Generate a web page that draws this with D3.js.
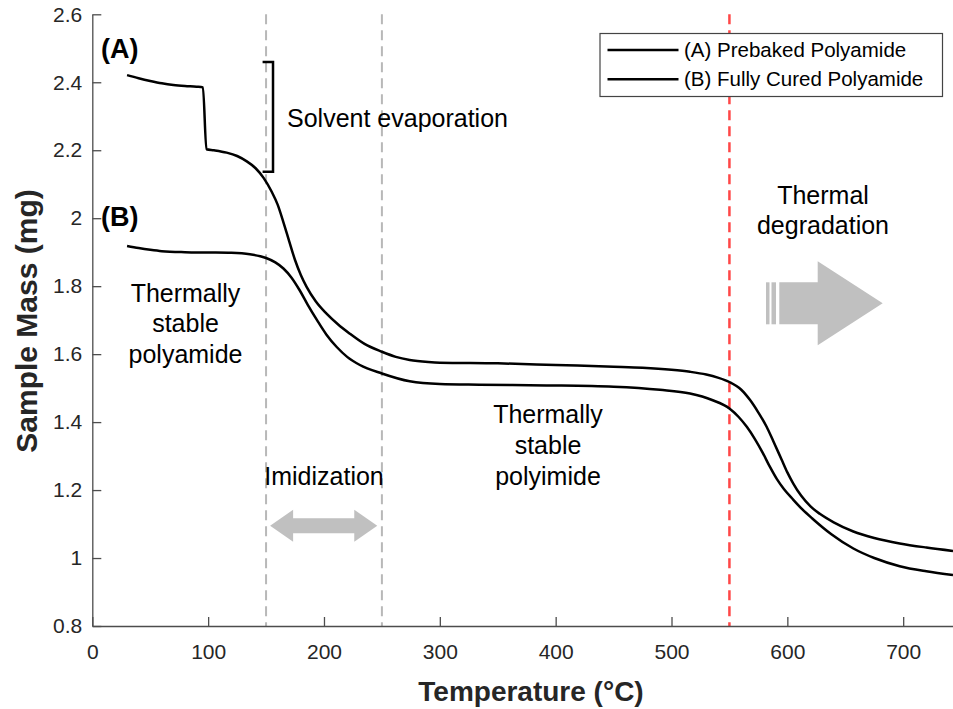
<!DOCTYPE html>
<html>
<head>
<meta charset="utf-8">
<script src="https://cdn.jsdelivr.net/npm/d3@7"></script>
<style>
  body { margin: 0; background: #fff; }
  text { font-family: "Liberation Sans", Arial, Helvetica, sans-serif; }
</style>
</head>
<body>
<div id="chart"></div>
<script>
const width = 953;
const height = 709;
const margins = { top: 14.3, left: 92.3, bottom: 83, right: 0 };

// (A) prebaked polyamide
const tempA = [30, 40, 50, 60, 70, 80, 90, 95.5, 98.5, 105, 116, 125, 133, 141, 148, 155, 160, 165, 170, 175, 180, 185, 193, 202, 212, 222, 235, 250, 262, 274, 290, 300, 350, 400, 450, 475, 500, 516, 530, 540, 550, 560, 568, 575, 582, 588, 595, 600, 605, 612, 620, 628, 640, 657, 675, 697, 720, 743];
const massA = [2.421, 2.412, 2.404, 2.397, 2.392, 2.389, 2.387, 2.385, 2.203, 2.200, 2.193, 2.183, 2.168, 2.147, 2.118, 2.077, 2.040, 1.988, 1.932, 1.877, 1.833, 1.798, 1.755, 1.720, 1.688, 1.661, 1.630, 1.607, 1.592, 1.583, 1.577, 1.575, 1.573, 1.568, 1.563, 1.560, 1.554, 1.548, 1.540, 1.531, 1.518, 1.496, 1.464, 1.428, 1.387, 1.343, 1.290, 1.252, 1.220, 1.183, 1.152, 1.130, 1.105, 1.078, 1.059, 1.043, 1.031, 1.021];

// (B) fully cured polyamide
const tempB = [30, 40, 50, 60, 80, 100, 120, 136, 145, 150, 158, 165, 172, 179, 186, 194, 202, 211, 220, 231, 250, 274, 300, 334, 392, 450, 490, 516, 535, 550, 558, 565, 572, 579, 585, 591, 597, 605, 613, 622, 638, 657, 675, 697, 720, 743];
const massB = [1.918, 1.912, 1.907, 1.903, 1.900, 1.899, 1.898, 1.894, 1.888, 1.883, 1.870, 1.852, 1.825, 1.788, 1.745, 1.700, 1.658, 1.621, 1.592, 1.568, 1.543, 1.520, 1.512, 1.510, 1.508, 1.504, 1.495, 1.484, 1.465, 1.440, 1.415, 1.386, 1.350, 1.308, 1.268, 1.232, 1.203, 1.172, 1.143, 1.115, 1.070, 1.028, 1.000, 0.976, 0.961, 0.950];

const seriesNames = ['(A) Prebaked Polyamide', '(B) Fully Cured Polyamide'];
const xTicks = [0, 100, 200, 300, 400, 500, 600, 700];
const yTicks = [0.8, 1, 1.2, 1.4, 1.6, 1.8, 2, 2.2, 2.4, 2.6];
const grayMarks = [150, 250];
const redMark = 550;

const svg = d3.select('#chart')
    .append('svg')
    .attr('width', width)
    .attr('height', height);

const x = d3.scaleLinear().domain([0, 743]).range([margins.left, width - margins.right]);
const y = d3.scaleLinear().domain([0.8, 2.6]).range([height - margins.bottom, margins.top]);

// dashed markers
svg.selectAll('.grayline').data(grayMarks)
    .enter()
    .append('line')
    .attr('x1', d => x(d)).attr('x2', d => x(d))
    .attr('y1', y(2.6)).attr('y2', y(0.8))
    .attr('stroke', '#b8b8b8')
    .attr('stroke-width', 2)
    .attr('stroke-dasharray', '10,6');

svg.append('line')
    .attr('x1', x(redMark)).attr('x2', x(redMark))
    .attr('y1', y(2.6)).attr('y2', y(0.8))
    .attr('stroke', '#ff4747')
    .attr('stroke-width', 2.5)
    .attr('stroke-dasharray', '10,6');

// axes
const xAxis = svg.append('g')
    .attr('transform', `translate(0,${y(0.8)})`)
    .call(d3.axisBottom(x).tickValues(xTicks).tickSizeInner(-9).tickSizeOuter(0).tickPadding(18));
const yAxis = svg.append('g')
    .attr('transform', `translate(${x(0)},0)`)
    .call(d3.axisLeft(y).tickValues(yTicks).tickFormat(d3.format('')).tickSizeInner(-9).tickSizeOuter(0).tickPadding(10));

[xAxis, yAxis].forEach(g => {
    g.select('.domain').attr('stroke', '#4d4d4d').attr('stroke-width', 1.3);
    g.selectAll('.tick line').attr('stroke', '#4d4d4d').attr('stroke-width', 1.3);
    g.selectAll('.tick text')
        .attr('fill', '#262626')
        .style('font-size', '21px')
        .style('font-family', '"Liberation Sans", Arial, sans-serif');
});

// curves
const line = d3.line()
    .x(d => x(d[0]))
    .y(d => y(d[1]))
    .curve(d3.curveMonotoneX);

svg.append('path')
    .datum(tempA.map((t, i) => [t, massA[i]]))
    .attr('d', line)
    .attr('fill', 'none')
    .attr('stroke', '#000')
    .attr('stroke-width', 2.5);

svg.append('path')
    .datum(tempB.map((t, i) => [t, massB[i]]))
    .attr('d', line)
    .attr('fill', 'none')
    .attr('stroke', '#000')
    .attr('stroke-width', 2.5);

// axis labels
svg.append('text')
    .attr('x', 531)
    .attr('y', 701)
    .attr('text-anchor', 'middle')
    .style('font-size', '28px')
    .style('font-weight', 'bold')
    .attr('fill', '#262626')
    .text('Temperature (°C)');

svg.append('text')
    .attr('transform', 'translate(37,321) rotate(-90)')
    .attr('text-anchor', 'middle')
    .style('font-size', '30px')
    .style('font-weight', 'bold')
    .attr('fill', '#262626')
    .text('Sample Mass (mg)');

// legend
const legend = svg.append('g');
legend.append('rect')
    .attr('x', 600).attr('y', 33.5)
    .attr('width', 342.5).attr('height', 63)
    .attr('fill', '#fff')
    .attr('stroke', '#444')
    .attr('stroke-width', 1.2);

const legendRows = legend.selectAll('.row').data(seriesNames)
    .enter()
    .append('g')
    .attr('transform', (d, i) => `translate(0,${50 + i * 29.3})`);
legendRows.append('line')
    .attr('x1', 607.5).attr('x2', 678.5)
    .attr('stroke', '#000').attr('stroke-width', 2.5);
legendRows.append('text')
    .attr('x', 684)
    .attr('y', 7)
    .style('font-size', '20.5px')
    .text(d => d);

// labels on the curves
svg.append('text')
    .attr('x', 101).attr('y', 58)
    .style('font-size', '27px').style('font-weight', 'bold')
    .text('(A)');
svg.append('text')
    .attr('x', 101).attr('y', 226)
    .style('font-size', '27px').style('font-weight', 'bold')
    .text('(B)');

// solvent bracket
const bracket = d3.path();
bracket.moveTo(x(147), y(2.46));
bracket.lineTo(x(156), y(2.46));
bracket.lineTo(x(156), y(2.137));
bracket.lineTo(x(147), y(2.137));
svg.append('path')
    .attr('d', bracket.toString())
    .attr('fill', 'none')
    .attr('stroke', '#000')
    .attr('stroke-width', 2.5);

svg.append('text')
    .attr('x', 287).attr('y', 127)
    .style('font-size', '25px')
    .text('Solvent evaporation');

// multi-line annotations
function block(lines, cx, y0) {
    const t = svg.append('text')
        .attr('text-anchor', 'middle')
        .style('font-size', '25px');
    lines.forEach((s, i) => {
        t.append('tspan').attr('x', cx).attr('y', y0 + i * 30.8).text(s);
    });
}
block(['Thermally', 'stable', 'polyamide'], 185.5, 301.5);
block(['Thermally', 'stable', 'polyimide'], 548, 423);
block(['Thermal', 'degradation'], 823, 203.5);
block(['Imidization'], 324, 485);

// imidization double arrow
const ax0 = x(153.5), ax1 = x(246), ay = y(1.095);
const headL = 23, shaftH = 7.5, headH = 16;
svg.append('path')
    .attr('d', `M${ax0},${ay} L${ax0 + headL},${ay - headH} L${ax0 + headL},${ay - shaftH} L${ax1 - headL},${ay - shaftH} L${ax1 - headL},${ay - headH} L${ax1},${ay} L${ax1 - headL},${ay + headH} L${ax1 - headL},${ay + shaftH} L${ax0 + headL},${ay + shaftH} L${ax0 + headL},${ay + headH}Z`)
    .attr('fill', '#c0c0c0');

// thermal degradation arrow
const dx0 = 779.3, dxh = 817.7, dx1 = 882.7, dy = 303.3;
svg.append('path')
    .attr('d', `M${dx0},${dy - 21} L${dxh},${dy - 21} L${dxh},${dy - 42} L${dx1},${dy} L${dxh},${dy + 42} L${dxh},${dy + 21} L${dx0},${dy + 21}Z`)
    .attr('fill', '#c0c0c0');
svg.selectAll('.stripe').data([[766, 3.5], [771.5, 4.5]])
    .enter()
    .append('rect')
    .attr('x', d => d[0]).attr('y', dy - 21)
    .attr('width', d => d[1]).attr('height', 42)
    .attr('fill', '#c0c0c0');
</script>
</body>
</html>
